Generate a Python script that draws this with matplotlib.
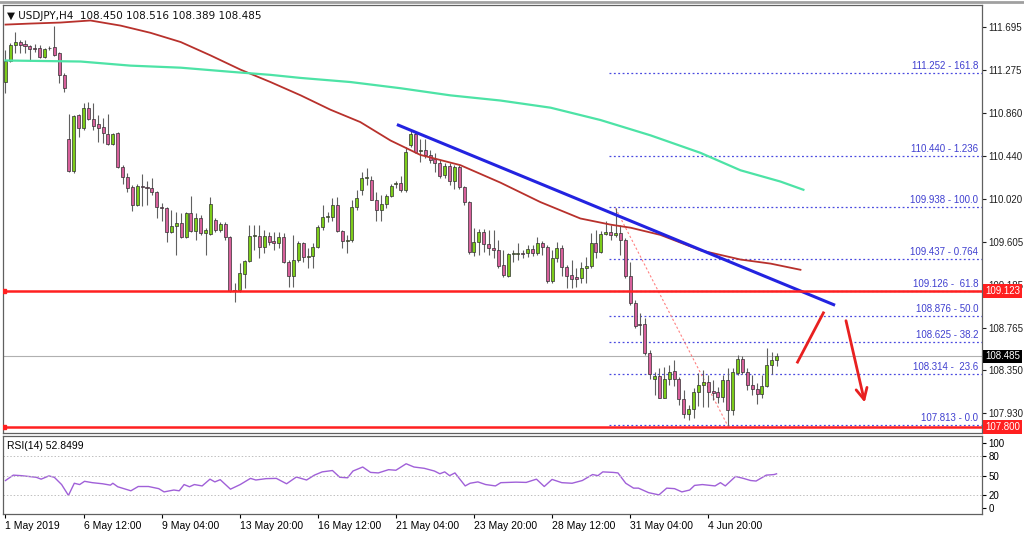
import matplotlib
matplotlib.use("Agg")
import matplotlib.pyplot as plt
import matplotlib.transforms as mtransforms
import numpy as np

plt.rcParams['font.family'] = ['Liberation Sans', 'DejaVu Sans']

opens = [111.16,111.37,111.52,111.55,111.53,111.51,111.49,111.49,111.40,111.49,111.50,111.44,111.23,
110.60,110.29,110.84,110.71,110.91,110.80,110.75,110.72,110.65,110.56,110.66,110.33,110.23,110.14,109.96,110.15,110.14,110.13,110.09,109.94,109.93,109.70,109.76,109.79,109.65,109.88,109.71,
109.83,109.69,109.68,109.82,109.72,109.78,109.65,109.13,109.13,109.29,109.42,109.66,109.66,109.55,109.66,109.61,109.59,109.65,109.41,109.27,
109.43,109.59,109.45,109.46,109.55,109.75,109.84,109.84,109.96,109.71,109.61,109.62,109.94,110.11,110.22,110.21,110.01,109.91,109.97,110.05,
110.17,110.18,110.11,110.55,110.65,110.49,110.50,110.45,110.41,110.37,110.25,110.34,110.20,110.33,110.14,109.99,109.50,109.60,109.70,109.58,
109.54,109.52,109.38,109.27,109.48,109.48,109.49,109.49,109.53,109.49,109.59,109.55,109.22,109.44,109.54,109.36,109.28,109.26,109.25,109.35,
109.37,109.59,109.50,109.68,109.70,109.67,109.69,109.62,109.27,109.01,108.80,108.80,108.52,108.27,108.29,108.08,108.27,108.34,108.27,108.07,
107.92,107.97,108.14,108.21,108.24,108.15,108.14,108.09,108.26,107.96,108.32,108.46,108.33,108.21,108.17,108.12,108.20,108.40,108.45]
closes = [111.37,111.52,111.55,111.52,111.51,111.48,111.48,111.40,111.48,111.49,111.42,111.23,111.10,
110.29,110.83,110.71,110.91,110.80,110.73,110.71,110.66,110.56,110.65,110.33,110.23,110.13,109.96,110.15,110.14,110.13,110.09,109.94,109.93,109.70,109.76,109.79,109.65,109.88,109.71,109.83,
109.69,109.72,109.97,109.72,109.78,109.65,109.12,109.12,109.30,109.42,109.66,109.67,109.55,109.66,109.60,109.59,109.65,109.41,109.27,109.43,
109.59,109.45,109.46,109.55,109.75,109.84,109.85,109.96,109.71,109.61,109.62,109.94,110.03,110.22,110.23,110.01,109.91,109.97,110.05,110.15,
110.18,110.11,110.48,110.65,110.48,110.50,110.45,110.40,110.37,110.24,110.34,110.20,110.33,110.14,109.99,109.50,109.60,109.70,109.58,109.54,
109.52,109.37,109.28,109.48,109.49,109.49,109.48,109.53,109.49,109.59,109.55,109.22,109.44,109.54,109.36,109.27,109.24,109.24,109.35,109.37,
109.59,109.50,109.68,109.70,109.67,109.69,109.62,109.27,109.01,108.78,108.79,108.52,108.31,108.29,108.08,108.27,108.33,108.27,108.07,107.92,
107.97,108.14,108.21,108.24,108.14,108.13,108.09,108.26,107.96,108.33,108.46,108.33,108.21,108.17,108.12,108.20,108.40,108.45,108.485]
highs = [111.47,111.54,111.65,111.57,111.57,111.52,111.53,111.52,111.49,111.51,111.71,111.45,111.25,
110.85,110.84,110.85,110.96,110.97,110.96,110.84,110.81,110.85,110.66,110.67,110.35,110.27,110.16,110.17,110.26,110.20,110.22,110.10,109.98,109.94,109.91,109.89,109.88,109.89,110.05,109.88,
109.86,109.74,110.04,109.83,109.80,109.80,109.66,109.20,109.40,109.43,109.77,109.77,109.77,109.72,109.70,109.70,109.70,109.69,109.43,109.67,
109.61,109.60,109.54,109.59,109.77,109.96,109.89,110.03,110.04,109.72,109.67,110.01,110.11,110.28,110.32,110.24,110.09,110.06,110.07,110.17,
110.20,110.24,110.53,110.69,110.67,110.60,110.60,110.50,110.47,110.40,110.37,110.37,110.35,110.35,110.15,110.00,109.74,109.73,109.73,109.72,
109.72,109.62,109.52,109.49,109.52,109.59,109.52,109.57,109.57,109.65,109.61,109.57,109.52,109.60,109.57,109.38,109.43,109.35,109.41,109.45,
109.69,109.72,109.71,109.81,109.77,109.93,109.77,109.64,109.41,109.04,108.91,108.86,108.55,108.33,108.37,108.38,108.40,108.45,108.28,108.16,
108.01,108.18,108.32,108.35,108.30,108.26,108.19,108.30,108.37,108.37,108.50,108.49,108.37,108.30,108.23,108.30,108.57,108.53,108.516]
lows = [111.05,111.36,111.44,111.44,111.44,111.37,111.45,111.39,111.39,111.47,111.41,111.15,111.06,
110.28,110.27,110.62,110.69,110.79,110.69,110.58,110.57,110.55,110.55,110.32,110.17,110.09,109.90,109.95,109.95,109.96,110.06,109.83,109.81,109.60,109.69,109.47,109.64,109.64,109.70,109.62,
109.67,109.47,109.67,109.70,109.70,109.62,109.11,109.02,109.11,109.15,109.41,109.52,109.44,109.49,109.57,109.52,109.54,109.40,109.16,109.16,
109.41,109.41,109.35,109.35,109.54,109.72,109.80,109.81,109.70,109.54,109.49,109.60,109.91,110.06,110.16,110.01,109.81,109.81,109.93,110.04,
110.13,110.09,110.09,110.53,110.47,110.38,110.42,110.37,110.28,110.22,110.22,110.16,110.12,110.12,109.96,109.48,109.46,109.47,109.50,109.47,
109.44,109.35,109.26,109.26,109.41,109.43,109.44,109.45,109.46,109.47,109.47,109.20,109.20,109.41,109.27,109.15,109.15,109.16,109.20,109.20,
109.35,109.44,109.49,109.67,109.62,109.65,109.47,109.25,108.99,108.76,108.69,108.50,108.27,108.11,108.08,108.08,108.21,108.20,108.01,107.89,
107.87,107.89,108.00,107.99,107.99,108.06,108.03,108.04,107.81,107.91,108.30,108.31,108.16,108.11,108.02,108.08,108.19,108.31,108.389]

ma_red_x = [0,5.1,11.3,17.4,23.6,29.7,35.9,42,48.2,54.3,60.5,66.6,72.7,78.9,85,93.2,101.4,109.6,117.8,124,128.1,134.2,142.4,150.6,156.8,162.9]
ma_red_y = [111.72,111.73,111.74,111.76,111.71,111.64,111.55,111.42,111.28,111.16,111.03,110.89,110.77,110.59,110.45,110.35,110.18,109.99,109.83,109.77,109.74,109.67,109.52,109.43,109.39,109.33]
ma_green_x = [0,15.4,25.6,35.9,46.1,54.3,60.5,70.7,80.9,91.2,101.4,111.7,121.9,132.2,142.4,150.6,158.8,163.5]
ma_green_y = [111.37,111.36,111.32,111.30,111.26,111.23,111.20,111.16,111.10,111.03,110.98,110.91,110.79,110.64,110.47,110.30,110.19,110.11]

trend_x = [80.5, 169.7]
trend_y = [110.74, 108.99]

fib_levels = [111.252, 110.440, 109.938, 109.437, 109.126, 108.876, 108.625, 108.314, 107.813]
fib_labels = ["111.252 - 161.8", "110.440 - 1.236", "109.938 - 100.0", "109.437 - 0.764",
              "109.126 -  61.8", "108.876 - 50.0", "108.625 - 38.2", "108.314 -  23.6", "107.813 - 0.0"]
fib_start = 123.6
fib_diag_x = [125, 148]
fib_diag_y = [109.93, 107.81]

support_levels = [109.123, 107.800]
last_price = 108.485

arrow1_x = [162.3, 167.6]; arrow1_y = [108.43, 108.91]
arrow2_x = [172.1, 176.2]; arrow2_y = [108.86, 108.01]

price_ticks = [111.695, 111.275, 110.860, 110.440, 110.020, 109.605, 109.185, 108.765, 108.350, 107.930]

rsi_x = [0,1.6,3.2,6.3,7.3,8.9,10,11.5,12.9,14.1,15.2,16.2,17.8,19.9,21.5,22,23,25.7,27.2,29.3,31.4,32.5,34.5,35.6,36.6,37.7,38.7,40.3,41.9,42.9,44,46.1,48.1,50.2,51.3,53.4,55.5,57.6,59.6,61.7,63.3,64.9,67,68.5,70.1,71.2,73.2,74.8,76.4,78.5,80,82.1,83.7,85.8,87.9,89,90,91,92.1,94.2,95.2,96.8,98.4,100.4,101.5,104.6,106.7,108.8,110.4,112,114,116.1,118.2,120.3,121.4,122.4,124.5,125.5,127.1,128.7,129.7,131.8,133.9,135.5,137.1,138.6,140.2,141.2,142.8,144.4,145.4,146.5,147.5,149.6,151.2,152.7,153.8,155.9,157.5,158]
rsi_y = [42.5,50.8,50,47.5,44.6,49.6,47.5,36.3,19.6,38.3,36.3,41.3,39.2,37.5,35.4,38.3,32.9,26.7,33.3,33.3,30,25,27.9,26.7,36.3,32.9,36.3,34.2,44.6,40.4,43.8,29.2,36.3,45.8,43.3,45.4,45.8,37.5,47.9,43.3,50.8,55.8,57.9,47.5,46.7,57.1,63.3,55,54.2,59.2,58.3,68.3,63.3,61.3,57.1,52.9,55.8,50,54.2,34.2,38.3,40.4,36.3,34.2,39.2,40,39.6,44.6,33.3,44.2,39.2,38.3,42.5,51.7,50,55.8,55,54.2,38.3,30.8,30.8,23.8,20.4,30.8,30,25,27.9,35,36.3,35,34.2,39.2,34.2,48.8,45.8,42.5,41.7,50.8,51.7,52.85]

xtick_pos = [0,16,32,48,64,80,96,112,128,144]
xtick_labels = ["1 May 2019","6 May 12:00","9 May 04:00","13 May 20:00","16 May 12:00",
                "21 May 04:00","23 May 20:00","28 May 12:00","31 May 04:00","4 Jun 20:00"]

W, H = 1024, 534
fig = plt.figure(figsize=(W/100, H/100), dpi=100)
fig.patch.set_facecolor("white")
ax = fig.add_axes([3/W, 1-433/H, 979/W, 428/H])
axr = fig.add_axes([3/W, 1-514/H, 979/W, 78/H], sharex=ax)

xlim = (-0.51, 200.1)
ax.set_xlim(*xlim)
ax.set_ylim(107.739, 111.911)

o = np.array(opens); c = np.array(closes); h = np.array(highs); l = np.array(lows)
x = np.arange(len(o))
bull = c >= o
ax.vlines(x, np.minimum(l, np.minimum(o, c)), np.maximum(h, np.maximum(o, c)), color="#606060", lw=0.8, zorder=3)
bottom = np.minimum(o, c)
height = np.maximum(np.abs(c - o), 0.006)
ax.bar(x[bull], height[bull], bottom=bottom[bull], width=0.62, color="#7ccc1a", edgecolor="#303030", lw=0.5, zorder=4)
ax.bar(x[~bull], height[~bull], bottom=bottom[~bull], width=0.62, color="#d7609b", edgecolor="#303030", lw=0.5, zorder=4)

ax.plot(ma_red_x, ma_red_y, color="#b8312c", lw=1.3, zorder=5)
ax.plot(ma_green_x, ma_green_y, color="#4de3a6", lw=1.6, zorder=5)
ax.plot(trend_x, trend_y, color="#2323e0", lw=2.2, zorder=6)

for lv, lab in zip(fib_levels, fib_labels):
    ax.plot([fib_start, xlim[1]], [lv, lv], color="#4a4ae0", lw=0.9, ls=(0, (1.5, 2)), zorder=2)
    ax.text(xlim[1] - 0.8, lv + 0.02, lab, color="#4040d0", fontsize=7, ha="right", va="bottom", zorder=7)
ax.plot(fib_diag_x, fib_diag_y, color="#ff8080", lw=0.8, ls=(0, (2, 2)), zorder=2)

for lv in support_levels:
    ax.axhline(lv, color="#ff2020", lw=1.8, zorder=6)
    ax.plot([xlim[0] + 0.3], [lv], marker="s", color="#ff2020", ms=3, zorder=7)
ax.axhline(last_price, color="#b0b0b0", lw=0.8, zorder=1)

ax.plot(arrow1_x, arrow1_y, color="#e82020", lw=2, zorder=7)
ax.annotate("", xy=(arrow2_x[1], arrow2_y[1]), xytext=(arrow2_x[0], arrow2_y[0]),
            arrowprops=dict(arrowstyle="->,head_length=0.8,head_width=0.4", color="#e82020", lw=2), zorder=7)

ax.yaxis.tick_right()
ax.set_yticks(price_ticks)
ax.set_yticklabels([f"{t:.3f}" for t in price_ticks], fontsize=7)
ax.tick_params(axis="y", length=3, pad=1.5, colors="#202020")
ax.tick_params(axis="x", bottom=False, labelbottom=False)

tr = mtransforms.blended_transform_factory(ax.transAxes, ax.transData)
for lv, fc in [(109.123, "#ff2020"), (107.800, "#ff2020"), (last_price, "#000000")]:
    ax.text(1.003, lv, f"{lv:.3f}", transform=tr, fontsize=7, color="white", va="center", ha="left",
            bbox=dict(boxstyle="square,pad=0.2", fc=fc, ec="none"), clip_on=False, zorder=10)

ax.text(0.004, 0.985, "\u25bc USDJPY,H4  108.450 108.516 108.389 108.485", transform=ax.transAxes,
        fontsize=7.5, va="top", ha="left", color="#101010", family=['DejaVu Sans'])

for a in (ax, axr):
    for s in a.spines.values():
        s.set_color("#606060"); s.set_linewidth(0.9)

axr.set_ylim(-9, 111)
axr.plot(rsi_x, rsi_y, color="#a060d8", lw=1.0)
for lv in (20, 50, 80):
    axr.axhline(lv, color="#c0c0c0", lw=0.7, ls=(0, (1.5, 2)))
axr.yaxis.tick_right()
axr.set_yticks([0, 20, 50, 80, 100])
axr.set_yticklabels(["0", "20", "50", "80", "100"], fontsize=7)
axr.tick_params(axis="y", length=3, pad=1.5)
axr.set_xticks(xtick_pos)
axr.set_xticklabels(xtick_labels, fontsize=7.5, ha="left")
axr.tick_params(axis="x", length=3, pad=2)
axr.text(0.004, 0.94, "RSI(14) 52.8499", transform=axr.transAxes, fontsize=7.5, va="top", ha="left")

fig.add_artist(plt.Line2D([0, 1], [1 - 2/H, 1 - 2/H], color="#a0a0a0", lw=2))

fig.savefig("out.png", dpi=100)
